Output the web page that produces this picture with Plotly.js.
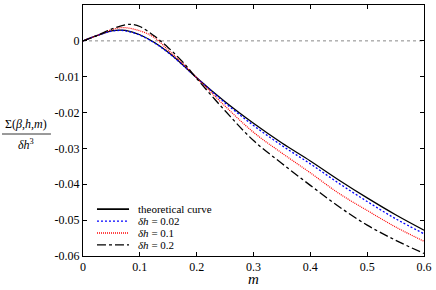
<!DOCTYPE html>
<html><head><meta charset="utf-8">
<script src="https://cdn.plot.ly/plotly-3.0.1.min.js"></script>
<style>html,body{margin:0;padding:0;background:#fff}#plot{width:436px;height:290px}</style>
</head><body><div id="plot"></div>
<script>
var mTheory = [0,0.025,0.05,0.065,0.075,0.1,0.125,0.15,0.175,0.2,0.25,0.3,0.35,0.4,0.45,0.5,0.55,0.6];
var yTheory = [0,0.0015,0.0028,0.0030,0.0029,0.0017,-0.0004,-0.0032,-0.0066,-0.0103,-0.0170,-0.0230,-0.0285,-0.0335,-0.0388,-0.0438,-0.0485,-0.0528];
var mDh002 = [0,0.025,0.05,0.065,0.075,0.1,0.125,0.15,0.175,0.2,0.25,0.3,0.35,0.4,0.45,0.5,0.55,0.6];
var yDh002 = [0,0.0015,0.0027,0.0029,0.0028,0.0016,-0.0005,-0.0033,-0.0067,-0.0103,-0.0173,-0.0236,-0.0292,-0.0343,-0.0397,-0.0448,-0.0496,-0.0538];
var mDh01 = [0,0.025,0.05,0.07,0.1,0.125,0.15,0.175,0.2,0.25,0.3,0.35,0.4,0.45,0.5,0.55,0.6];
var yDh01 = [0,0.0015,0.0031,0.0037,0.0028,0.0010,-0.0026,-0.0062,-0.0103,-0.0182,-0.0255,-0.0313,-0.0368,-0.0425,-0.0473,-0.0519,-0.0559];
var mDh02 = [0,0.025,0.05,0.075,0.085,0.1,0.125,0.15,0.175,0.2,0.25,0.3,0.35,0.4,0.45,0.5,0.55,0.6];
var yDh02 = [0,0.0015,0.0033,0.0045,0.0046,0.0040,0.0014,-0.0019,-0.0058,-0.0105,-0.0195,-0.0278,-0.0342,-0.0403,-0.0462,-0.0514,-0.0556,-0.0593];
var names = ['theoretical curve','<i>δh</i> = 0.02','<i>δh</i> = 0.1','<i>δh</i> = 0.2'];
var xTicks = [0,0.1,0.2,0.3,0.4,0.5,0.6];
var xTickText = ['0','0.1','0.2','0.3','0.4','0.5','0.6'];
var yTicks = [0.01,0,-0.01,-0.02,-0.03,-0.04,-0.05,-0.06];
var yTickText = ['0.01','0','-0.01','-0.02','-0.03','-0.04','-0.05','-0.06'];

var F = 'Liberation Serif';
var styles = [
 {color:'#000000',width:1.3},
 {color:'#0000ff',width:1.3,dash:'2px,2px'},
 {color:'#ff0000',width:1.2,dash:'1px,1px'},
 {color:'#000000',width:1.3,dash:'dashdot'}
];
var xs = [mTheory,mDh002,mDh01,mDh02], ys = [yTheory,yDh002,yDh01,yDh02];
var traces = xs.map(function(x,i){
  return {x:x,y:ys[i],name:names[i],mode:'lines',showlegend:false,
    line:Object.assign({shape:'spline'},styles[i])};
});
var legY = [0.187,0.139,0.092,0.044];
var shapes = [
  {type:'line',xref:'paper',x0:0,x1:1,yref:'y',y0:0,y1:0,line:{color:'#888',width:1,dash:'dot'},layer:'below'},
  {type:'line',xref:'paper',x0:-0.2375,x1:-0.094,yref:'paper',y0:0.486,y1:0.486,line:{color:'#000',width:0.8}}
];
var annotations = [
  {xref:'paper',yref:'paper',x:-0.166,y:0.49,xanchor:'center',yanchor:'bottom',showarrow:false,text:'Σ(<i>β</i>,<i>h</i>,<i>m</i>)',font:{family:F,size:12,color:'#000'}},
  {xref:'paper',yref:'paper',x:-0.166,y:0.483,xanchor:'center',yanchor:'top',showarrow:false,text:'<i>δh</i><sup>3</sup>',font:{family:F,size:12,color:'#000'}},
  {xref:'paper',yref:'paper',x:0.5,y:-0.092,xanchor:'center',yanchor:'middle',showarrow:false,borderpad:0,text:'<i>m</i>',font:{family:F,size:15,color:'#000'}}
];
names.forEach(function(n,i){
  var st = Object.assign({},styles[i]);
  if(i===0) st.width = 1.8;
  if(i===2) st.width = 1.5;
  shapes.push({type:'line',xref:'paper',yref:'paper',x0:0.041,x1:0.135,y0:legY[i],y1:legY[i],line:st});
  annotations.push({xref:'paper',yref:'paper',x:0.155,y:legY[i],xanchor:'left',yanchor:'middle',showarrow:false,text:n,font:{family:F,size:11,color:'#000'}});
});
var axisCommon = {showgrid:false,zeroline:false,showline:true,linecolor:'#000',linewidth:1,mirror:'ticks',ticks:'inside',ticklen:4,tickcolor:'#000',automargin:false,tickfont:{family:F,size:12,color:'#000'}};
var layout = {
 width:436,height:290,margin:{l:83,r:12,t:5,b:34},
 paper_bgcolor:'#fff',plot_bgcolor:'#fff',
 font:{family:F,size:12,color:'#000'},
 showlegend:false,
 xaxis:Object.assign({},axisCommon,{range:[0,0.6],tickvals:xTicks,ticktext:xTickText}),
 yaxis:Object.assign({},axisCommon,{range:[-0.06,0.01],tickvals:yTicks,ticktext:yTickText}),
 shapes:shapes,
 annotations:annotations
};
Plotly.newPlot('plot',traces,layout,{displayModeBar:false,staticPlot:true});
</script></body></html>
